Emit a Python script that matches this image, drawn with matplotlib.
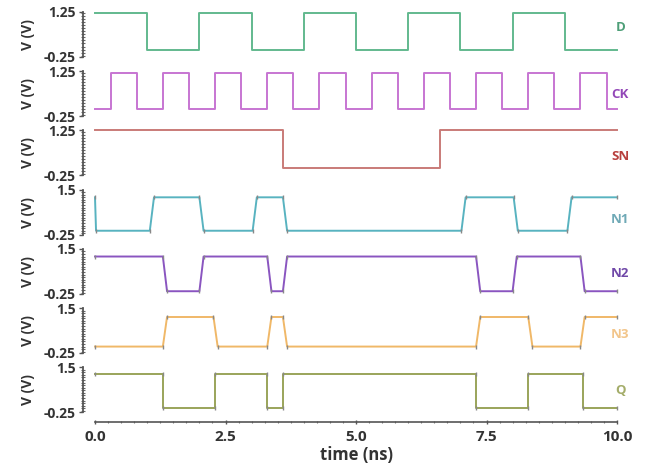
import matplotlib
matplotlib.use("Agg")
import matplotlib.pyplot as plt
import matplotlib.transforms as mtransforms
from matplotlib.ticker import MultipleLocator, FixedLocator
import numpy as np

plt.rcParams['font.family'] = ['Open Sans', 'DejaVu Sans']

# signal names, edge times (ns), levels (low, high), starting state
names = ["D", "CK", "SN", "N1", "N2", "N3", "Q"]
D_edges = [1.0, 2.0, 3.0, 4.0, 5.0, 6.0, 7.0, 8.0, 9.0]
CK_edges = [0.3, 0.8, 1.3, 1.8, 2.3, 2.8, 3.3, 3.8, 4.3, 4.8,
            5.3, 5.8, 6.3, 6.8, 7.3, 7.8, 8.3, 8.8, 9.3, 9.8]
SN_edges = [3.6, 6.6]
N1_edges = [1.05, 2.0, 3.02, 3.6, 7.02, 8.02, 9.05]
N2_edges = [1.3, 2.0, 3.3, 3.6, 7.3, 8.0, 9.3]
N3_edges = [1.3, 2.27, 3.3, 3.6, 7.3, 8.3, 9.3]
Q_edges = [1.3, 2.3, 3.3, 3.6, 7.3, 8.3, 9.35]
edges = [D_edges, CK_edges, SN_edges, N1_edges, N2_edges, N3_edges, Q_edges]

lows = [0.0, 0.0, 0.0, -0.1, -0.15, 0.0, -0.1]
highs = [1.2, 1.2, 1.25, 1.2, 1.2, 1.15, 1.25]
start_high = [True, False, True, False, True, False, True]
rise = [0, 0, 0, 0.08, 0.08, 0.08, 0]
ytop = [1.25, 1.25, 1.25, 1.5, 1.5, 1.5, 1.5]
ytop_labels = ["1.25", "1.25", "1.25", "1.5", "1.5", "1.5", "1.5"]

line_colors = ["#62b98e", "#c775d2", "#c97b78", "#58b3c0", "#8a55c0", "#f0b868", "#9aa45a"]
label_colors = ["#4e9f78", "#9348b8", "#b8403e", "#6fa9b6", "#7048a8", "#f2c58a", "#a4ad6a"]
label_yfrac = [0.65, 0.49, 0.43, 0.33, 0.45, 0.41, 0.49]
use_markers = [False, False, False, True, True, True, True]


def build_trace(ed, lo, hi, high_first, dt):
    t = [0.0]
    v = [hi if high_first else lo]
    state = high_first
    for e in ed:
        cur = hi if state else lo
        nxt = lo if state else hi
        t += [e, e + dt]
        v += [cur, nxt]
        state = not state
    t.append(10.0)
    v.append(hi if state else lo)
    return t, v


W, H = 646, 474
fig = plt.figure(figsize=(W / 100, H / 100), dpi=100)
left_px, right_px = 95, 617
txt = "#333333"

axes = []
for i in range(7):
    top_px = 12 + 59.2 * i
    h_px = 45
    ax = fig.add_axes([left_px / W, 1 - (top_px + h_px) / H,
                       (right_px - left_px) / W, h_px / H])
    axes.append(ax)
    t, v = build_trace(edges[i], lows[i], highs[i], start_high[i], rise[i])
    if i == 3:
        # N1 starts from the high level at t=0
        t = [0.0] + t
        v = [highs[i]] + v
        t[1] = 0.02
    ax.plot(t, v, color=line_colors[i], lw=1.4, clip_on=False,
            marker='|' if use_markers[i] else None, ms=3.5, mew=1.0,
            mec="#888888")
    ax.set_xlim(0, 10)
    ax.set_ylim(-0.25, ytop[i])
    for s in ["top", "right"]:
        ax.spines[s].set_visible(False)
    ax.spines["left"].set_position(("outward", 9))
    ax.spines["left"].set_color("#555555")
    ax.spines["left"].set_linewidth(1.3)
    ax.yaxis.set_major_locator(FixedLocator([-0.25, ytop[i]]))
    ax.set_yticklabels(["-0.25", ytop_labels[i]])
    ax.yaxis.set_minor_locator(MultipleLocator(0.1))
    ax.tick_params(axis="y", which="major", length=3, width=1, color="#555555",
                   labelsize=10, labelcolor=txt, pad=2)
    ax.tick_params(axis="y", which="minor", length=2.5, width=0.8, color="#666666",
                   direction="inout")
    for lab in ax.get_yticklabels():
        lab.set_fontweight("bold")
    ax.set_ylabel("V (V)", fontsize=10, fontweight="bold", color=txt, labelpad=2)
    ax.yaxis.set_label_coords(-0.115, 0.5)
    trans = mtransforms.blended_transform_factory(ax.transData, ax.transAxes)
    ax.text(10.06, label_yfrac[i], names[i], transform=trans, ha="center",
            va="center", fontsize=9.5, fontweight="bold", color=label_colors[i])
    if i < 6:
        ax.spines["bottom"].set_visible(False)
        ax.tick_params(axis="x", which="both", bottom=False, labelbottom=False)
    ax.patch.set_alpha(0)

ax = axes[-1]
ax.spines["bottom"].set_position(("outward", 7))
ax.spines["bottom"].set_color("#555555")
ax.spines["bottom"].set_linewidth(1.2)
ax.xaxis.set_minor_locator(MultipleLocator(0.25))
ax.set_xticks([0, 2.5, 5.0, 7.5, 10.0])
ax.set_xticklabels(["0.0", "2.5", "5.0", "7.5", "10.0"])
ax.tick_params(axis="x", which="major", length=3, width=1, color="#555555",
               labelsize=11, labelcolor=txt, direction="inout", pad=4)
ax.tick_params(axis="x", which="minor", length=2, width=0.8, color="#777777",
               direction="inout")
for lab in ax.get_xticklabels():
    lab.set_fontweight("bold")
ax.set_xlabel("time (ns)", fontsize=12, fontweight="bold", color=txt, labelpad=2)

fig.savefig("out.png", dpi=100)
